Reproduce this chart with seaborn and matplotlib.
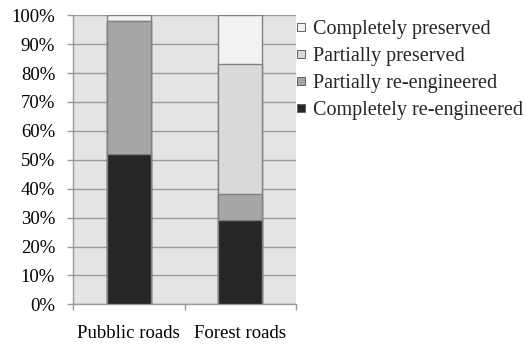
import matplotlib
matplotlib.use("Agg")
import matplotlib.pyplot as plt
from matplotlib.lines import Line2D
import numpy as np
import pandas as pd
import seaborn as sns

# Share of road length by preservation state (percent)
categories = ["Pubblic roads", "Forest roads"]
completely_reengineered = [52, 29]
partially_reengineered = [46, 9]
partially_preserved = [0, 45]
completely_preserved = [2, 17]

series_names = ["Completely preserved", "Partially preserved",
                "Partially re-engineered", "Completely re-engineered"]
series_colors = ["#f2f2f2", "#d9d9d9", "#a6a6a6", "#262626"]
y_ticks = list(range(0, 101, 10))

sns.set_theme(style="white")
plt.rcParams["font.family"] = ["Liberation Serif", "DejaVu Serif"]

fig = plt.figure(figsize=(5.26, 3.45), dpi=100)
ax = fig.add_axes([73 / 526, 1 - 304.3 / 345, (296 - 73) / 526, (304.3 - 15.3) / 345])
ax.set_facecolor("#e4e4e4")

# Stack bottom-up: cumulative tops, drawn from the tallest down
layers = [completely_reengineered, partially_reengineered,
          partially_preserved, completely_preserved]
cum = np.cumsum(np.array(layers), axis=0)
layer_colors = series_colors[::-1]
for i in range(len(layers) - 1, -1, -1):
    df = pd.DataFrame({"road": categories, "share": cum[i]})
    sns.barplot(data=df, x="road", y="share", color=layer_colors[i],
                saturation=1, width=0.395, edgecolor="#808080",
                linewidth=1.0, ax=ax, zorder=3)

ax.set_xlim(-0.5, 1.5)
ax.set_ylim(0, 100)
ax.set_yticks(y_ticks)
ax.set_yticklabels([f"{t}%" for t in y_ticks])
ax.set_xlabel("")
ax.set_ylabel("")

ax.grid(axis="y", color="#9a9a9a", linewidth=1.0, zorder=0)
ax.set_axisbelow(True)

for s in ["top", "right"]:
    ax.spines[s].set_visible(False)
for s in ["left", "bottom"]:
    ax.spines[s].set_color("#9a9a9a")
    ax.spines[s].set_linewidth(1.0)

ax.tick_params(axis="y", which="major", length=4.3, width=1.0, color="#9a9a9a",
               pad=8.5, labelsize=13.5, labelcolor="#000000", direction="out", left=True)
ax.set_xticks([0, 1])
ax.set_xticks([-0.5, 0.5, 1.5], minor=True)
ax.tick_params(axis="x", which="major", length=0, pad=15, labelsize=13.5, labelcolor="#000000")
ax.tick_params(axis="x", which="minor", length=4.3, width=1.0, color="#9a9a9a",
               direction="out", bottom=True)

handles = [Line2D([], [], linestyle="none", marker="s", markersize=5.5,
                  markerfacecolor=c, markeredgecolor="#606060", markeredgewidth=0.7)
           for c in series_colors]
fig.legend(handles, series_names, loc="upper left",
           bbox_to_anchor=(296 / 526, 1 - 19.5 / 345), frameon=False,
           fontsize=14.5, handlelength=0.5, handletextpad=0.35,
           labelspacing=0.4, borderpad=0, borderaxespad=0)

fig.savefig("out.png", dpi=100, facecolor="white")
